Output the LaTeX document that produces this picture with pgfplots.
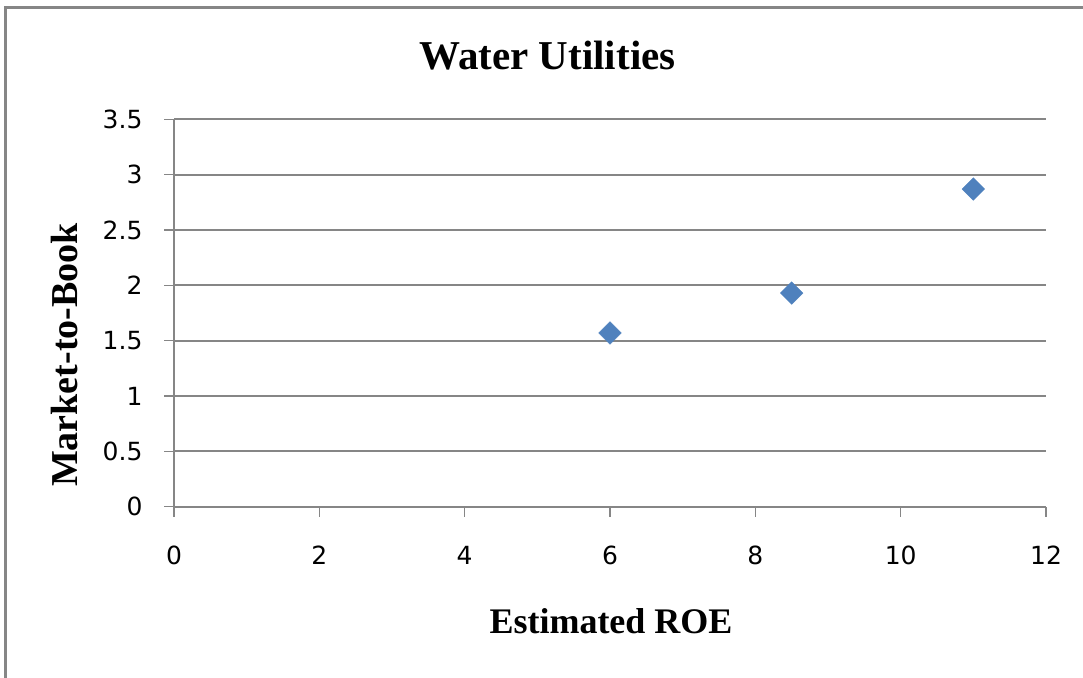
\documentclass[border=0pt]{standalone}
\usepackage{pgfplots}
\pgfplotsset{compat=1.18}
\usepackage{fontspec}
\setmainfont{Liberation Serif}
\newfontfamily\tickfont{DejaVu Sans}
\definecolor{gridgray}{HTML}{868686}
\definecolor{markblue}{HTML}{4F81BD}
\begin{document}
\begin{tikzpicture}[x=1pt,y=1pt]
\useasboundingbox (0,0) rectangle (1083,677);
\draw[color=gridgray, line width=3pt] (5,-5) -- (5,669) -- (1090,669);
\begin{axis}[
  at={(174pt,170.3pt)}, anchor=south west,
  scale only axis, width=872pt, height=387.4pt,
  xmin=0, xmax=12, ymin=0, ymax=3.5,
  xtick={0,2,4,6,8,10,12},
  ytick={0,0.5,1,1.5,2,2.5,3,3.5},
  yticklabels={0,0.5,1,1.5,2,2.5,3,3.5},
  xticklabels={0,2,4,6,8,10,12},
  axis x line*=bottom, axis y line*=left,
  axis line style={color=gridgray, line width=1.5pt},
  x axis line style={line width=2.2pt},
  ymajorgrids, grid style={color=gridgray, line width=2.2pt},
  tick align=outside, major tick length=10pt,
  tick style={color=gridgray, line width=1.3pt},
  ticklabel style={font=\tickfont\fontsize{25}{25}\selectfont, text=black},
  /pgf/number format/assume math mode=true,
  xticklabel style={yshift=-26pt},
  yticklabel style={xshift=-18pt},
  clip=false,
]
\addplot[only marks, mark=square*, mark size=8pt,
  mark options={rotate=45, fill=markblue, draw=markblue}]
  coordinates {(6,1.57) (8.5,1.93) (11,2.87)};
\end{axis}
\node[anchor=base] at (547.5,607) {\fontsize{41}{41}\selectfont\bfseries Water Utilities};
\node[anchor=base] at (611,44) {\fontsize{36}{36}\selectfont\bfseries Estimated ROE};
\node[anchor=base, rotate=90] at (77,322) {\fontsize{38}{38}\selectfont\bfseries Market-to-Book};
\end{tikzpicture}
\end{document}
